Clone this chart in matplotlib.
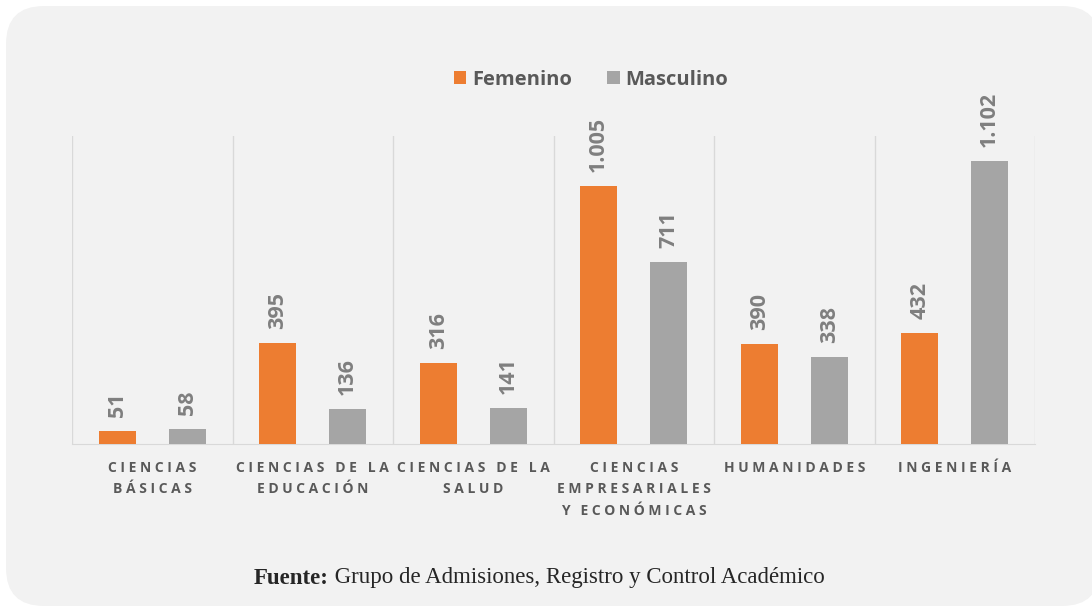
import matplotlib
matplotlib.use("Agg")
import matplotlib.pyplot as plt
from matplotlib.patches import FancyBboxPatch
import numpy as np

categorias = ["CIENCIAS\nBÁSICAS", "CIENCIAS DE LA\nEDUCACIÓN", "CIENCIAS DE LA\nSALUD",
              "CIENCIAS\nEMPRESARIALES\nY ECONÓMICAS", "HUMANIDADES", "INGENIERÍA"]
femenino = [51, 395, 316, 1005, 390, 432]
masculino = [58, 136, 141, 711, 338, 1102]
etiquetas_fem = ["51", "395", "316", "1.005", "390", "432"]
etiquetas_mas = ["58", "136", "141", "711", "338", "1.102"]
fuente = "Grupo de Admisiones, Registro y Control Académico"

naranja = "#ED7D31"
gris = "#A5A5A5"
texto = "#595959"


def espaciar(s):
    # imitate the letter spacing of the original labels
    lineas = []
    for linea in s.split("\n"):
        palabras = [" ".join(list(p)) for p in linea.split(" ")]
        lineas.append("   ".join(palabras))
    return "\n".join(lineas)


fig = plt.figure(figsize=(10.92, 6.08), dpi=100)
fig.patch.set_facecolor("white")

fondo = FancyBboxPatch((6, 2), 1094, 600, boxstyle="round,pad=0,rounding_size=38",
                       transform=None, facecolor="#F2F2F2", edgecolor="none", zorder=-5)
fig.patches.append(fondo)

ax = fig.add_axes([72 / 1092, 1 - 444 / 608, (1035 - 72) / 1092, (444 - 136) / 608])
ax.set_facecolor("none")

x = np.arange(len(categorias))
off = 0.218
w = 0.23
b1 = ax.bar(x - off, femenino, w, color=naranja, label="Femenino", zorder=3)
b2 = ax.bar(x + off, masculino, w, color=gris, label="Masculino", zorder=3)

for barras, etiquetas in ((b1, etiquetas_fem), (b2, etiquetas_mas)):
    for r, t in zip(barras, etiquetas):
        ax.annotate(t, (r.get_x() + r.get_width() / 2, r.get_height()),
                    xytext=(0, 10), textcoords="offset points", rotation=90,
                    ha="center", va="bottom", fontsize=15.5, fontweight="bold",
                    color="#7F7F7F", family="Open Sans")

ax.set_xlim(-0.5, len(categorias) - 0.5)
ax.set_ylim(0, 1200)
for xv in np.arange(-0.5, len(categorias), 1.0):
    ax.axvline(xv, color="#D9D9D9", lw=1, zorder=1)

for s in ["top", "right", "left"]:
    ax.spines[s].set_visible(False)
ax.spines["bottom"].set_color("#D9D9D9")
ax.set_yticks([])
ax.set_xticks(x)
ax.set_xticklabels([espaciar(c) for c in categorias], fontsize=10, fontweight="bold",
                   color=texto, family="Open Sans", linespacing=1.7, va="top")
ax.tick_params(axis="x", length=0, pad=12)

leg = fig.legend(handles=[b1, b2], loc="center", bbox_to_anchor=(591 / 1092, 1 - 80 / 608),
                 ncol=2, frameon=False, prop={"family": "Open Sans", "weight": "bold", "size": 14.5},
                 handlelength=0.62, handleheight=0.62, handletextpad=0.3, columnspacing=1.75)
for t in leg.get_texts():
    t.set_color(texto)

# source line: bold "Fuente:" followed by regular text, centred together
renderer = fig.canvas.get_renderer()
t1 = fig.text(0, 1 - 578 / 608, "Fuente:", ha="left", va="center", fontsize=16.5,
              fontweight="bold", family="Liberation Serif", color="#262626")
t2 = fig.text(0, 1 - 578 / 608, " " + fuente, ha="left", va="center", fontsize=16.5,
              family="Liberation Serif", color="#262626")
w1 = t1.get_window_extent(renderer).width
w2 = t2.get_window_extent(renderer).width
x0 = 539 - (w1 + w2) / 2
t1.set_x(x0 / 1092)
t2.set_x((x0 + w1) / 1092)

fig.savefig("out.png", dpi=100, facecolor=fig.get_facecolor())
